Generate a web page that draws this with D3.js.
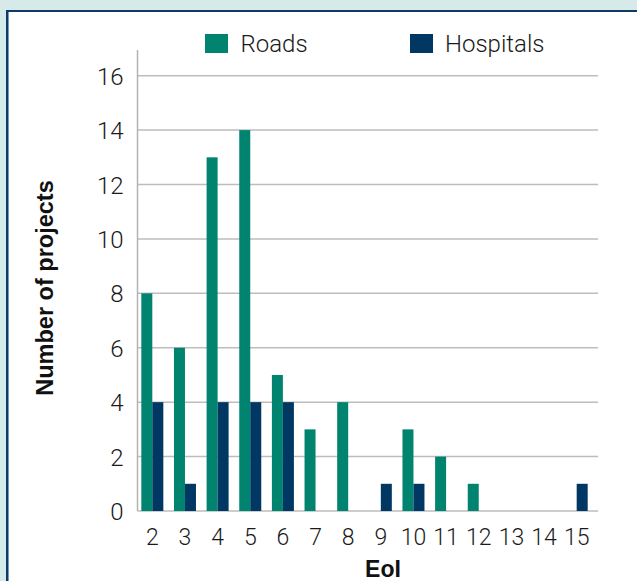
<!DOCTYPE html>
<html>
<head>
<meta charset="utf-8">
<script src="https://cdn.jsdelivr.net/npm/d3@7/dist/d3.min.js"></script>
<style>
  html, body { margin: 0; padding: 0; background: #d6eaea; overflow: hidden; }
  svg { display: block; }
  text { font-family: "Liberation Sans", Arial, Helvetica, sans-serif; }
  .light { font-family: Roboto, "Liberation Sans", Arial, sans-serif; font-weight: 300; }
</style>
</head>
<body>
<svg id="chart" width="637" height="581"></svg>
<script>
const categories = ["2","3","4","5","6","7","8","9","10","11","12","13","14","15"];
const seriesNames = ["Roads", "Hospitals"];
const roads     = [8, 6, 13, 14, 5, 3, 4, 0, 3, 2, 1, 0, 0, 0];
const hospitals = [4, 1, 4, 4, 4, 0, 0, 1, 1, 0, 0, 0, 0, 1];
const yTicks = [0, 2, 4, 6, 8, 10, 12, 14, 16];
const xTitle = "EoI";
const yTitle = "Number of projects";

const colors = { Roads: "#00846f", Hospitals: "#003763" };

const svg = d3.select("#chart");

// panel
svg.append("rect").attr("x", 0).attr("y", 0).attr("width", 637).attr("height", 581).attr("fill", "#d6eaea");
svg.append("rect").attr("x", 7).attr("y", 11).attr("width", 700).attr("height", 700)
  .attr("fill", "#ffffff").attr("stroke", "#0e3a66").attr("stroke-width", 2);
svg.append("line").attr("x1", 8.5).attr("x2", 8.5).attr("y1", 12).attr("y2", 581)
  .attr("stroke", "#6f9cc6").attr("stroke-width", 1);

const plotLeft = 137.5, plotRight = 598, y0 = 511, yTop = 75.7;

const x = d3.scaleBand().domain(categories).range([136, 593]).paddingInner(0).paddingOuter(0);
const sub = d3.scaleBand().domain(seriesNames).range([0, 22]);
const y = d3.scaleLinear().domain([0, 16]).range([y0, yTop]);

// gridlines
svg.append("g").selectAll("line").data(yTicks).join("line")
  .attr("x1", plotLeft).attr("x2", plotRight)
  .attr("y1", d => y(d)).attr("y2", d => y(d))
  .attr("stroke", "#bdbdbd").attr("stroke-width", 1.5);

// y axis line
svg.append("line").attr("x1", plotLeft).attr("x2", plotLeft).attr("y1", 50).attr("y2", y0)
  .attr("stroke", "#b3b3b3").attr("stroke-width", 1.5);

// bars
const data = categories.map((c, i) => ({ c, Roads: roads[i], Hospitals: hospitals[i] }));
const groups = svg.append("g").selectAll("g").data(data).join("g")
  .attr("transform", d => `translate(${x(d.c) + x.bandwidth() / 2 - 11},0)`);
groups.selectAll("rect").data(d => seriesNames.map(k => ({ k, v: d[k] }))).join("rect")
  .attr("x", d => sub(d.k))
  .attr("width", sub.bandwidth())
  .attr("y", d => y(d.v))
  .attr("height", d => y0 - y(d.v))
  .attr("fill", d => colors[d.k]);

// y axis
const yAxis = svg.append("g").attr("transform", `translate(${plotLeft},0)`)
  .call(d3.axisLeft(y).tickValues(yTicks).tickSize(0).tickPadding(14).tickFormat(d3.format("d")));
yAxis.select(".domain").remove();
yAxis.selectAll("text").attr("class", "light").attr("font-size", 24).attr("fill", "#1a1a1a").attr("dy", "0.36em");

// x axis
const xAxis = svg.append("g").attr("transform", `translate(0,${y0})`)
  .call(d3.axisBottom(x).tickSize(0).tickPadding(18));
xAxis.select(".domain").remove();
xAxis.selectAll("text").attr("class", "light").attr("font-size", 23).attr("fill", "#1a1a1a");

// titles
svg.append("text").attr("x", 383).attr("y", 577).attr("text-anchor", "middle")
  .attr("font-size", 23).attr("font-weight", "bold").attr("fill", "#111").text(xTitle);
svg.append("text").attr("transform", "translate(53,288) rotate(-90)").attr("text-anchor", "middle")
  .attr("font-size", 23.5).attr("font-weight", "bold").attr("fill", "#111").text(yTitle);

// legend
const legendPos = [{ k: "Roads", sx: 205, tx: 240.5 }, { k: "Hospitals", sx: 410, tx: 445 }];
const lg = svg.append("g").selectAll("g").data(legendPos).join("g");
lg.append("rect").attr("x", d => d.sx).attr("y", 34).attr("width", 23).attr("height", 19)
  .attr("fill", d => colors[d.k]);
lg.append("text").attr("class", "light").attr("x", d => d.tx).attr("y", 52).attr("font-size", 24).attr("fill", "#1a1a1a")
  .text(d => d.k);
</script>
</body>
</html>
